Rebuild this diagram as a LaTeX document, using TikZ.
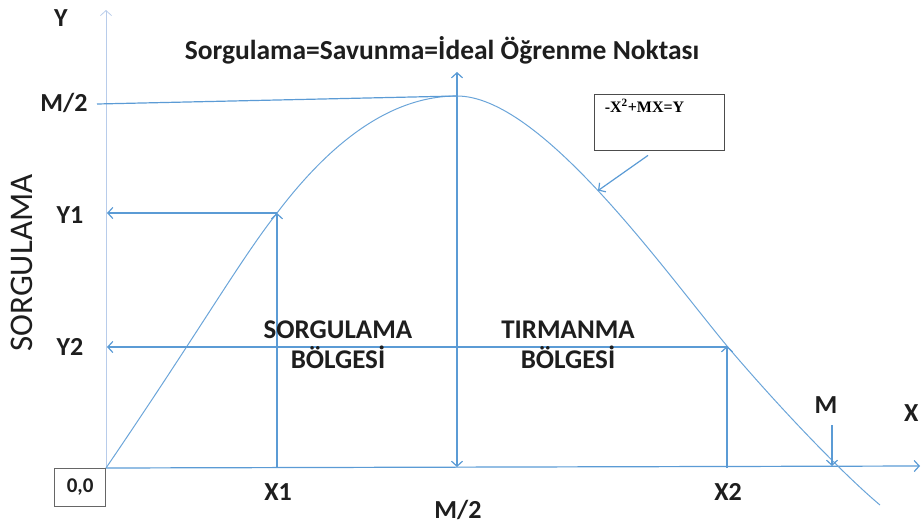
\documentclass[tikz,border=0pt]{standalone}
\usepackage{fontspec}
\setmainfont{Carlito}
\newfontfamily\eqfont{Liberation Serif}
\usepackage{tikz}
\usetikzlibrary{arrows.meta}

\definecolor{lineblue}{RGB}{91,155,213}
\definecolor{axisblue}{RGB}{184,204,234}
\definecolor{inkgray}{RGB}{30,30,30}

\tikzset{
    guide/.style={draw=lineblue, line width=1.2pt},
    curveline/.style={draw=lineblue!90, line width=1pt},
    axisline/.style={draw=axisblue, line width=0.8pt},
    tip/.style={-{Straight Barb[length=5pt,width=11pt]}},
    twotip/.style={{Straight Barb[length=5pt,width=11pt]}-{Straight Barb[length=5pt,width=11pt]}},
    lbl/.style={font=\bfseries\fontsize{26}{30}\selectfont, text=inkgray, inner sep=0pt},
    zone/.style={lbl, align=center, font=\bfseries\fontsize{27}{30}\selectfont},
}

\begin{document}
\begin{tikzpicture}[x=1pt, y=-1pt]
    \useasboundingbox (0,0) rectangle (921,528);

    \coordinate (O) at (106,468);
    \coordinate (ytop) at (106,10);
    \coordinate (xend) at (920,466);
    \coordinate (peak) at (457,96);
    \coordinate (p1) at (277,213);
    \coordinate (p2) at (727,346);
    \coordinate (tail) at (880,505);
    \coordinate (mroot) at (832,466);

    % axes
    \draw[axisline,tip] (O) -- (ytop);
    \draw[guide,tip] (O) -- (xend);

    % curve
    \draw[curveline] (O) .. controls (200,330) and (240,260) .. (p1)
        .. controls (330,143) and (390,96) .. (peak)
        .. controls (540,96) and (660,265) .. coordinate[pos=0.5] (onc) (p2)
        .. controls (790,420) and (850,480) .. (tail);

    % guides
    \coordinate (y1) at (107,213);
    \coordinate (y2) at (107,347);
    \coordinate (x1) at (277,468);
    \coordinate (x2) at (727,468);
    \coordinate (mleft) at (97,104);
    \coordinate (mtop) at (457,72);
    \coordinate (mfoot) at (457,467);
    \coordinate (mstart) at (832,425);
    \draw[guide] (mleft) -- (peak);
    \draw[guide,twotip] (mtop) -- (mfoot);
    \draw[guide,tip] (x1) -- (p1);
    \draw[guide,tip] (p1) -- (y1);
    \draw[guide,tip] (x2) -- (p2);
    \draw[guide,tip] (p2 |- y2) -- (y2);
    \draw[guide,tip] (mstart) -- (mroot);

    % formula box
    \node[draw=black!70, line width=0.8pt, minimum width=130pt, minimum height=56pt,
          label={[anchor=north west, inner sep=0pt, xshift=11pt, yshift=-5pt, font=\eqfont\bfseries\fontsize{16}{18}\selectfont]north west:-X\textsuperscript{2}+MX=Y}]
        (eq) at (659,122) {};
    \draw[guide,tip] ([xshift=-11pt, yshift=-5pt]eq.south) -- (onc);

    \node[draw=black!60, line width=0.8pt, minimum width=51pt, minimum height=38pt, anchor=north east,
          font=\bfseries\fontsize{21}{24}\selectfont, text=inkgray] (orig) at (O) {0,0};

    % labels
    \node[lbl, font=\bfseries\fontsize{27.5}{30}\selectfont] (ttl) at (442,50) {Sorgulama=Savunma=İdeal Öğrenme Noktası};
    \node[lbl] (ylbl) at (61,18) {Y};
    \node[lbl] (mhalf) at (64,103) {M/2};
    \node[lbl] (y1lbl) at (70,215) {Y1};
    \node[lbl] (y2lbl) at (70,347) {Y2};
    \node[lbl] (x1lbl) at (278,492) {X1};
    \node[lbl] (mlbl) at (458,510) {M/2};
    \node[lbl] (x2lbl) at (728,492) {X2};
    \node[lbl] (mtxt) at (826,405) {M};
    \node[lbl, anchor=west] (xlbl) at (904,413) {X};
    \node[zone] (zone1) at (338,345) {SORGULAMA\\BÖLGESİ};
    \node[zone] (zone2) at (568,345) {TIRMANMA\\BÖLGESİ};
    \node[font=\fontsize{33}{36}\selectfont, text=inkgray, rotate=90, inner sep=0pt] (side) at (22,263) {SORGULAMA};
\end{tikzpicture}
\end{document}
